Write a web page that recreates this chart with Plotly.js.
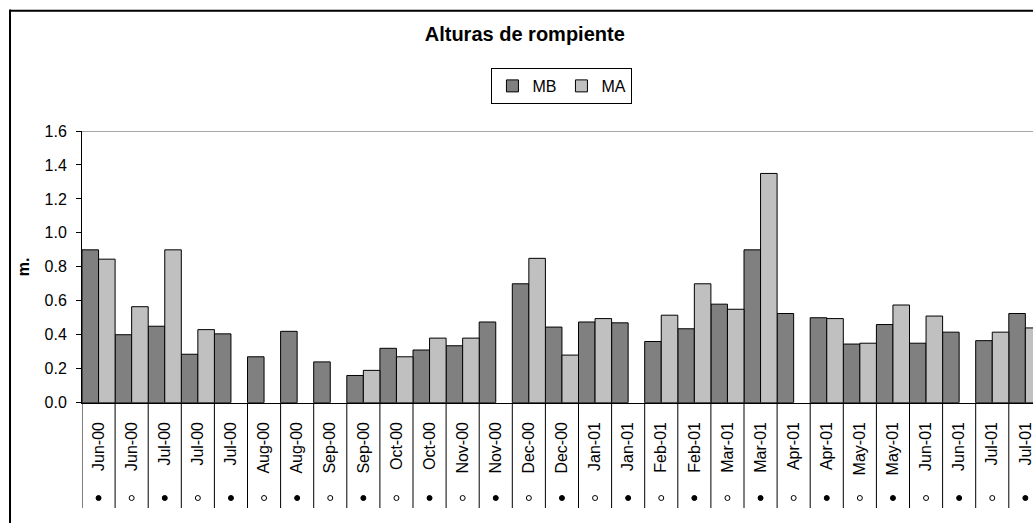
<!DOCTYPE html>
<html>
<head>
<meta charset="utf-8">
<script src="https://cdn.plot.ly/plotly-3.0.1.min.js"></script>
<style>
html,body{margin:0;padding:0;background:#fff;overflow:hidden;}
#chart{width:1033px;height:523px;}
</style>
</head>
<body>
<div id="chart"></div>
<script>
var categories = ['Jun-00','Jun-00','Jul-00','Jul-00','Jul-00','Aug-00','Aug-00','Sep-00','Sep-00','Oct-00','Oct-00','Nov-00','Nov-00','Dec-00','Dec-00','Jan-01','Jan-01','Feb-01','Feb-01','Mar-01','Mar-01','Apr-01','Apr-01','May-01','May-01','Jun-01','Jun-01','Jul-01','Jul-01'];
// moon phase under each date: 'full' = filled dot, 'new' = open dot
var moonPhase = ['full','new','full','new','full','new','full','new','full','new','full','new','full','new','full','new','full','new','full','new','full','new','full','new','full','new','full','new','full'];
var MB = [0.90,0.40,0.45,0.285,0.405,0.27,0.42,0.24,0.16,0.32,0.31,0.335,0.475,0.70,0.445,0.475,0.47,0.36,0.435,0.58,0.90,0.525,0.50,0.345,0.46,0.35,0.415,0.365,0.525];
var MA = [0.845,0.565,0.90,0.43,null,null,null,null,0.19,0.27,0.38,0.38,null,0.85,0.28,0.495,null,0.515,0.70,0.55,1.35,null,0.495,0.35,0.575,0.51,null,0.415,0.44];
var yTicks = [0,0.2,0.4,0.6,0.8,1.0,1.2,1.4,1.6];

var idx = categories.map(function(_, i){ return i; });
var FONT = 'Liberation Sans, Arial, sans-serif';

var traces = [
  {type:'bar', name:'MB', x:idx, y:MB, marker:{color:'#808080', line:{color:'#000', width:1}}},
  {type:'bar', name:'MA', x:idx, y:MA, marker:{color:'#c0c0c0', line:{color:'#000', width:1}}},
  {type:'scatter', mode:'markers', x:idx, y:idx.map(function(){ return 0; }), xaxis:'x2', yaxis:'y2',
   showlegend:false, hoverinfo:'skip',
   marker:{size:5, color:moonPhase.map(function(p){ return p === 'full' ? '#000' : '#fff'; }),
           symbol:'circle', line:{color:'#000', width:1}}}
];

var xRange = [-0.5, -0.5 + 951/33.1];
var mainBottom = 0.2795;

var shapes = [];
// category separators below the axis
for (var i = 0; i <= categories.length; i++) {
  shapes.push({type:'line', xref:'x', yref:'paper', x0:i-0.5, x1:i-0.5, y0:mainBottom, y1:0, line:{color:'#000', width:1}});
}
// top reference line at max of y axis
shapes.push({type:'line', xref:'paper', yref:'y', x0:0, x1:1, y0:1.6, y1:1.6, line:{color:'#a6a6a6', width:2}});
// outer chart border (top and left)
shapes.push({type:'line', xref:'paper', yref:'paper', x0:-0.0757, x1:1.01, y0:1.319, y1:1.319, line:{color:'#000', width:2}});
shapes.push({type:'line', xref:'paper', yref:'paper', x0:-0.0757, x1:-0.0757, y0:1.322, y1:-0.1, line:{color:'#000', width:2}});

var layout = {
  width:1033, height:523,
  margin:{l:82, r:0, t:130.5, b:15},
  paper_bgcolor:'#fff', plot_bgcolor:'rgba(0,0,0,0)',
  font:{family:FONT, color:'#000'},
  title:{text:'<b>Alturas de rompiente</b>', xref:'container', yref:'container', x:0.508, y:0.935,
         xanchor:'center', yanchor:'middle', font:{family:FONT, size:20, color:'#000'}},
  showlegend:true,
  legend:{orientation:'h', xref:'container', yref:'container', x:0.544, y:0.87, xanchor:'center', yanchor:'top',
          bordercolor:'#000', borderwidth:1, bgcolor:'#fff', font:{family:FONT, size:16, color:'#000'},
          itemwidth:30, traceorder:'normal'},
  barmode:'group', bargap:0, bargroupgap:0,
  xaxis:{type:'linear', range:xRange, tickvals:idx, ticktext:categories, tickangle:-90, anchor:'y',
         ticks:'', showgrid:false, zeroline:false, showline:true, linecolor:'#000', linewidth:1,
         ticklabelstandoff:12, ticklabeloverflow:'allow', tickfont:{family:FONT, size:16, color:'#000'}, fixedrange:true},
  yaxis:{domain:[mainBottom,1], range:[0,1.6], tickvals:yTicks, tickformat:'.1f', ticks:'outside', ticklen:5, tickcolor:'#000',
         showgrid:false, zeroline:false, showline:true, linecolor:'#000', linewidth:1,
         ticklabelstandoff:6, tickfont:{family:FONT, size:16, color:'#000'},
         title:{text:'<b>m.</b>', standoff:10, font:{family:FONT, size:16, color:'#000'}}, fixedrange:true},
  xaxis2:{anchor:'y2', matches:'x', range:xRange, visible:false, fixedrange:true},
  yaxis2:{domain:[0,0.053], range:[-1,1], visible:false, fixedrange:true},
  shapes:shapes
};

Plotly.newPlot('chart', traces, layout, {displayModeBar:false, staticPlot:true});
</script>
</body>
</html>
